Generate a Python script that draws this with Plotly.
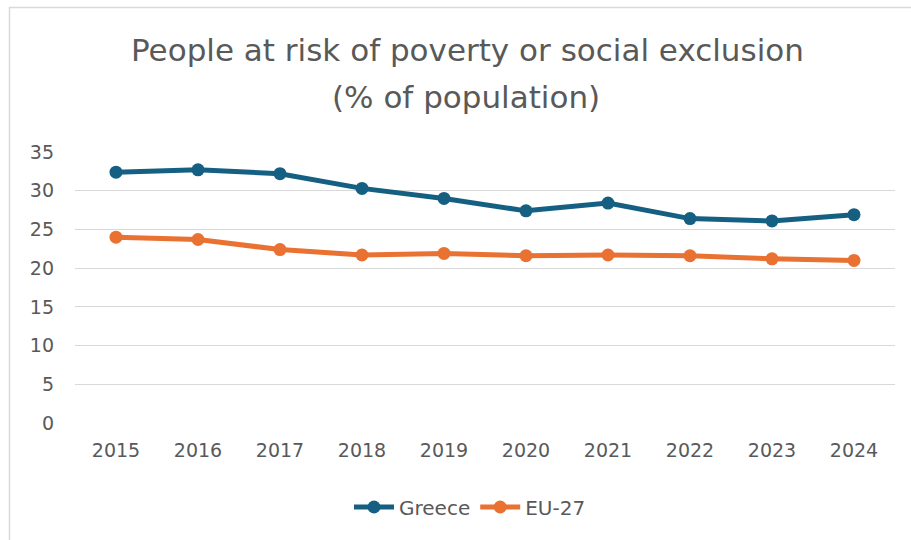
import plotly.graph_objects as go

years = ["2015", "2016", "2017", "2018", "2019", "2020", "2021", "2022", "2023", "2024"]
greece = [32.4, 32.7, 32.2, 30.3, 29.0, 27.4, 28.4, 26.4, 26.1, 26.9]
eu27 = [24.0, 23.7, 22.4, 21.7, 21.9, 21.6, 21.7, 21.6, 21.2, 21.0]
y_ticks = [0, 5, 10, 15, 20, 25, 30, 35]

title_line1 = "People at risk of poverty or social exclusion"
title_line2 = "(% of population)"

W, H = 911, 540
ML, MR, MT, MB = 75, 16, 152, 117
PW, PH = W - ML - MR, H - MT - MB

def px_x(px):
    return (px - ML) / PW

def px_y(py):
    return (H - MB - py) / PH

FONT = "DejaVu Sans, Verdana, sans-serif"
GREY = "#595959"

fig = go.Figure()
fig.add_trace(go.Scatter(x=years, y=greece, name="Greece", mode="lines+markers",
                         line=dict(color="#156082", width=5),
                         marker=dict(size=13, color="#156082")))
fig.add_trace(go.Scatter(x=years, y=eu27, name="EU-27", mode="lines+markers",
                         line=dict(color="#E97132", width=5),
                         marker=dict(size=13, color="#E97132")))

fig.update_layout(
    width=W, height=H,
    margin=dict(l=ML, r=MR, t=MT, b=MB, autoexpand=False),
    paper_bgcolor="white", plot_bgcolor="white",
    font=dict(family=FONT, color=GREY, size=19),
    showlegend=True,
    legend=dict(orientation="h", x=px_x(470), xanchor="center", y=px_y(507), yanchor="middle",
                font=dict(size=20, color=GREY), itemwidth=40, bgcolor="rgba(0,0,0,0)"),
    xaxis=dict(type="category", range=[-0.5, len(years) - 0.5], showgrid=False,
               showline=False, ticks="", tickfont=dict(size=19, color=GREY),
               ticklabelstandoff=14, automargin=False),
    yaxis=dict(range=[0, 35], tickvals=y_ticks, showgrid=True, gridcolor="#D9D9D9",
               gridwidth=1.2, zeroline=False, showline=False, ticks="",
               tickfont=dict(size=19, color=GREY), ticklabelstandoff=20,
               automargin=False),
    annotations=[
        dict(text=title_line1, xref="paper", yref="paper", x=px_x(467), y=px_y(50),
             xanchor="center", yanchor="middle", showarrow=False,
             font=dict(size=31, color=GREY, family=FONT)),
        dict(text=title_line2, xref="paper", yref="paper", x=px_x(466), y=px_y(97),
             xanchor="center", yanchor="middle", showarrow=False,
             font=dict(size=31, color=GREY, family=FONT)),
    ],
    shapes=[
        dict(type="path", xref="paper", yref="paper",
             path=f"M {px_x(9.5)} {px_y(545)} L {px_x(9.5)} {px_y(7.5)} L {px_x(915)} {px_y(7.5)}",
             line=dict(color="#D9D9D9", width=1.5), layer="below"),
    ],
)

fig.write_html("out.html")
